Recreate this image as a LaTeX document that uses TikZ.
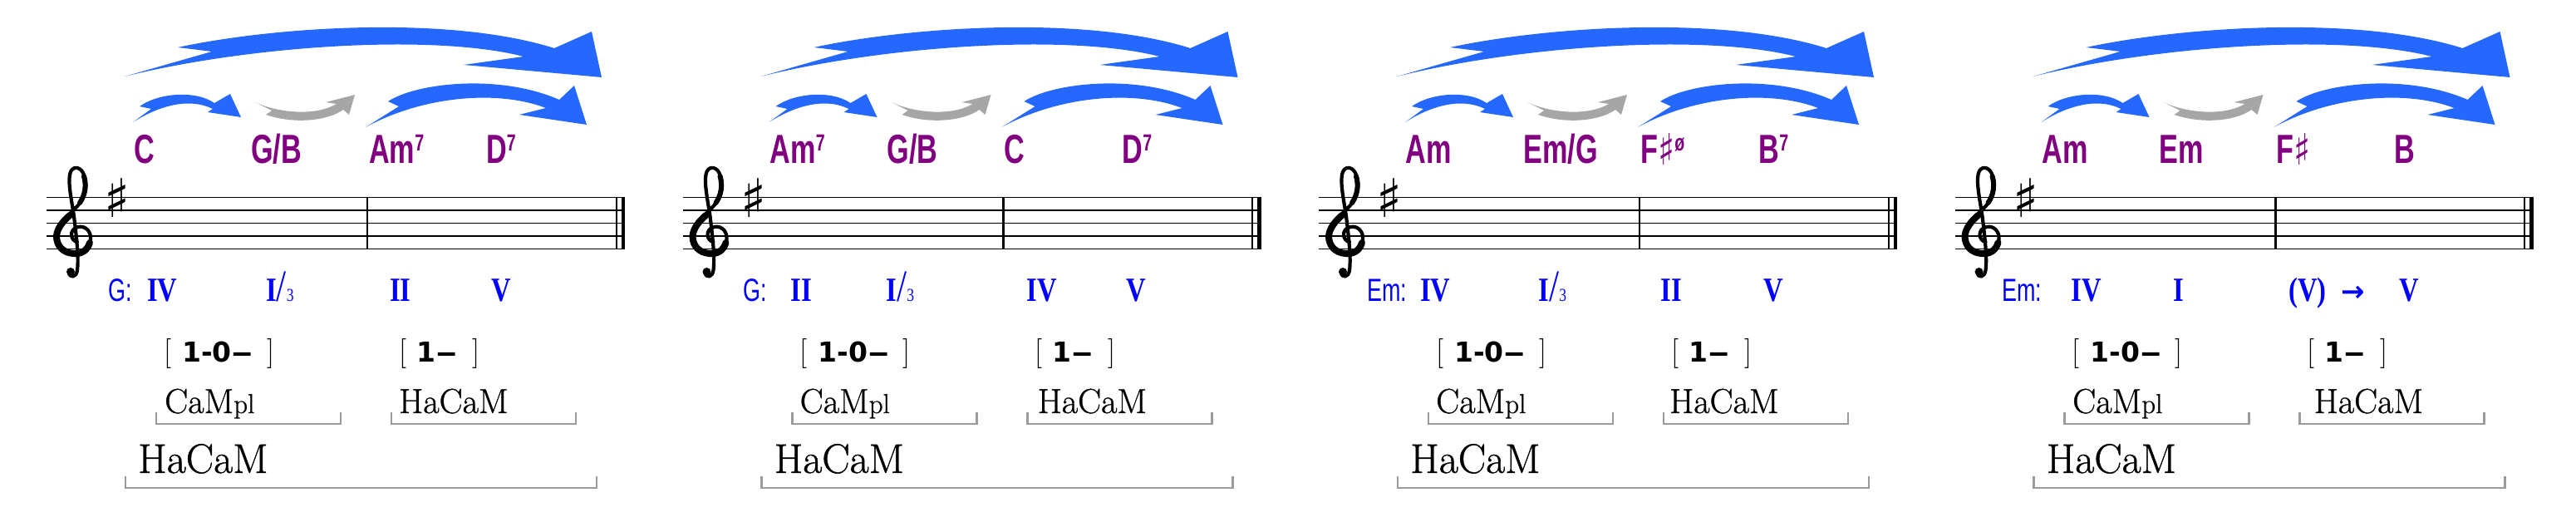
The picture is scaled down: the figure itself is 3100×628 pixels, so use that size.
\documentclass[tikz,border=0pt]{standalone}
\usepackage{fontspec}
\newfontfamily\chordfont[FakeStretch=0.7]{Liberation Sans}
\newfontfamily\romfont[FakeStretch=0.8]{Liberation Serif}
\newfontfamily\symfont{DejaVu Sans}
\newfontfamily\figfont{DejaVu Sans}
\newfontfamily\fnfont[FakeBold=0.8]{Latin Modern Roman}
\definecolor{chordpurple}{RGB}{128,0,128}
\definecolor{numblue}{RGB}{0,0,255}
\definecolor{arrblue}{RGB}{36,104,255}
\definecolor{arrgray}{RGB}{166,166,166}
\definecolor{brgray}{RGB}{155,155,155}
\newcommand\csup[1]{\raisebox{15pt}{\fontsize{28}{28}\selectfont #1}}
\newcommand\csharp{{\symfont\bfseries\fontsize{52}{52}\selectfont\raisebox{-2pt}{\scalebox{0.8}[1]{♯}}}}
\newcommand\slashthree{{\mdseries\fontsize{54}{54}\selectfont/}{\mdseries\fontsize{22}{22}\selectfont 3}}
\newcommand\longdash{\scalebox{1.6}[1]{–}}
\tikzset{
  chord/.style={anchor=base west, inner sep=0pt, text=chordpurple, font=\chordfont\bfseries\fontsize{48.9}{49}\selectfont},
  keylab/.style={anchor=base west, inner sep=0pt, text=numblue, font=\chordfont\fontsize{38.5}{38}\selectfont},
  rnum/.style={anchor=base west, inner sep=0pt, text=numblue, font=\romfont\bfseries\fontsize{40.8}{41}\selectfont},
  brk/.style={anchor=base west, inner sep=0pt, font=\fontsize{36}{36}\selectfont},
  figs/.style={anchor=base west, inner sep=0pt, font=\figfont\bfseries\fontsize{33}{33}\selectfont},
  fnlab/.style={anchor=base west, inner sep=0pt, font=\fnfont\fontsize{42}{42}\selectfont},
  bigfn/.style={anchor=base west, inner sep=0pt, font=\fnfont\fontsize{50}{50}\selectfont},
  grpbr/.style={draw=brgray, line width=2.5pt},
  staffline/.style={line width=1.5pt},
  barline/.style={line width=2.5pt},
  bluearr/.style={fill=arrblue, draw=none},
  grayarr/.style={fill=arrgray, draw=none},
  clefstroke/.style={line width=4.2pt, line cap=round, line join=round},
  clefheavy/.style={line width=8pt, line cap=round},
  keysharp/.style={inner sep=0pt, font=\symfont\fontsize{64}{64}\selectfont},
}
\newcommand\commonpanel[3]{%
  \foreach \i in {0,...,4}{\draw[staffline] (56,{237.7+15.4*\i}) -- (752,{237.7+15.4*\i});}
  \draw[barline] (442,237.7) -- (442,299.3);
  \draw[line width=2pt] (741.5,237.7) -- (741.5,299.3);
  \draw[line width=4.5pt] (749.75,237.7) -- (749.75,299.3);
  % treble clef (drawn: no installed family has the glyph)
  \draw[clefstroke] (93,291) .. controls (85,290) and (82,276) .. (94,273)
     .. controls (104,271) and (110,280) .. (109,288)
     .. controls (108,300) and (98,307) .. (88,306)
     .. controls (74,305) and (66,295) .. (67,284)
     .. controls (68,270) and (84,258) .. (94,247)
     .. controls (104,236) and (106,220) .. (100,208)
     .. controls (96,200) and (86,199) .. (84,210)
     .. controls (82,222) and (86,240) .. (89,260)
     .. controls (92,285) and (95,310) .. (93,325)
     .. controls (92,334) and (84,335) .. (83,328);
  \draw[clefheavy] (108,292) .. controls (105,302) and (97,306) .. (88,305)
     .. controls (76,304) and (68,296) .. (68,284) .. controls (69,274) and (76,266) .. (84,259);
  \draw[line width=6pt, line cap=round] (96,244) .. controls (103,234) and (104,222) .. (101,212);
  \fill (85,327) circle (5);
  \node[keysharp] (#1ks) at (141,238) {♯};
  % arrows
  \path[bluearr] (214,57) .. controls (330,32) and (540,18) .. (667,58) -- (712,38) -- (724,93) -- (558,78) -- (630,68)
     .. controls (520,40) and (300,55) .. (150,92) -- (255,62) -- cycle;
  \path[bluearr] (168,128) .. controls (190,112) and (235,108) .. (258,124) -- (277,113) -- (290,141) -- (250,135) -- (256,131)
     .. controls (230,118) and (195,125) .. (160,147) -- (182,131) -- cycle;
  \path[grayarr] (307,123) .. controls (335,136) and (380,140) .. (405,125) -- (392,123) -- (427,114) -- (420,138) -- (413,132)
     .. controls (395,145) and (355,150) .. (320,138) -- (327,133) -- cycle;
  \path[bluearr] (467,122) .. controls (500,100) and (600,88) .. (673,120) -- (691,103) -- (706,150) -- (625,138) -- (657,130)
     .. controls (600,108) and (510,115) .. (440,153) -- (480,128) -- cycle;
  % figures
  \node[brk] (#1bla) at (197,434) {[};
  \node[figs] (#1fa) at (219,435) {1-0\longdash};
  \node[brk] (#1bra) at (321,434) {]};
  \node[brk] (#1blb) at (480,434) {[};
  \node[figs] (#1fb) at (501,435) {1\longdash};
  \node[brk] (#1brb) at (568,434) {]};
  % function labels
  \node[fnlab] (#1cam) at (#2,497) {CaM{\fontsize{33}{33}\selectfont pl}};
  \node[fnlab] (#1hcs) at (#3,497) {HaCaM};
  \node[bigfn] (#1hcb) at (166,569) {HaCaM};
  \draw[grpbr] (188,496) -- (188,510) -- (410,510) -- (410,496);
  \draw[grpbr] (471,496) -- (471,510) -- (693,510) -- (693,496);
  \draw[grpbr] (151,573) -- (151,587) -- (718,587) -- (718,573);
}
\begin{document}
\begin{tikzpicture}[x=1pt,y=-1pt]
\path[use as bounding box] (0,0) rectangle (3100,628);
% panel 1
\begin{scope}
  \commonpanel{pa}{198}{480}
  \node[chord] (pac1) at (161,197) {C};
  \node[chord] (pac2) at (302,197) {G/B};
  \node[chord] (pac3) at (444,197) {Am\csup{7}};
  \node[chord] (pac4) at (585,197) {D\csup{7}};
  \node[keylab] (pak) at (130,362) {G:};
  \node[rnum] (par1) at (177,362) {IV};
  \node[rnum] (par2) at (320,362) {I\slashthree};
  \node[rnum] (par3) at (469,362) {II};
  \node[rnum] (par4) at (591,362) {V};
\end{scope}
% panel 2
\begin{scope}[xshift=765.5pt]
  \commonpanel{pb}{197}{483}
  \node[chord] (pbc1) at (161,197) {Am\csup{7}};
  \node[chord] (pbc2) at (302,197) {G/B};
  \node[chord] (pbc3) at (443,197) {C};
  \node[chord] (pbc4) at (585,197) {D\csup{7}};
  \node[keylab] (pbk) at (129,362) {G:};
  \node[rnum] (pbr1) at (186,362) {II};
  \node[rnum] (pbr2) at (301,362) {I\slashthree};
  \node[rnum] (pbr3) at (470,362) {IV};
  \node[rnum] (pbr4) at (590,362) {V};
\end{scope}
% panel 3
\begin{scope}[xshift=1531pt]
  \commonpanel{pc}{197}{478}
  \node[chord] (pcc1) at (160.5,197) {Am};
  \node[chord] (pcc2) at (302.5,197) {Em/G};
  \node[chord] (pcc3) at (443,197) {F\csharp\csup{ø}};
  \node[chord] (pcc4) at (585.5,197) {B\csup{7}};
  \node[keylab] (pck) at (114,362) {Em:};
  \node[rnum] (pcr1) at (178,362) {IV};
  \node[rnum] (pcr2) at (320.5,362) {I\slashthree};
  \node[rnum] (pcr3) at (467.5,362) {II};
  \node[rnum] (pcr4) at (591.5,362) {V};
\end{scope}
% panel 4
\begin{scope}[xshift=2296.5pt]
  \commonpanel{pd}{197.5}{488}
  \node[chord] (pdc1) at (161,197) {Am};
  \node[chord] (pdc2) at (302,197) {Em};
  \node[chord] (pdc3) at (442.5,197) {F\csharp};
  \node[chord] (pdc4) at (585,197) {B};
  \node[keylab] (pdk) at (112.5,362) {Em:};
  \node[rnum] (pdr1) at (196,362) {IV};
  \node[rnum] (pdr2) at (318.5,362) {I};
  \node[rnum] (pdr3) at (457.5,362) {(V)};
  \node[anchor=base west, inner sep=0pt, text=numblue, font=\symfont\bfseries\fontsize{34}{34}\selectfont] (pdarr) at (521,362) {→};
  \node[rnum] (pdr4) at (591,362) {V};
\end{scope}
\end{tikzpicture}
\end{document}
